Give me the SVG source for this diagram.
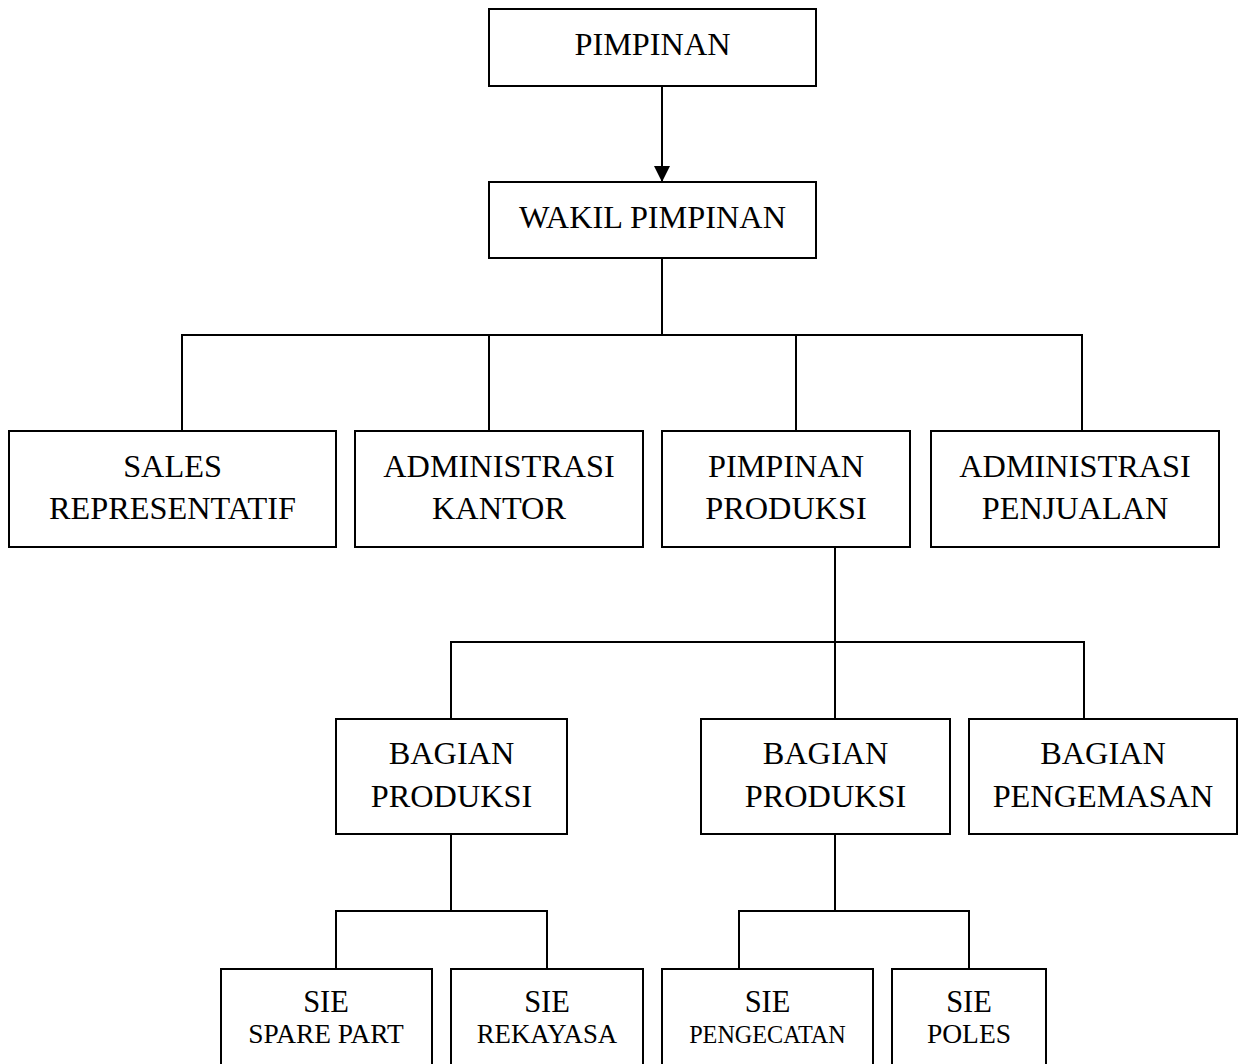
<svg xmlns="http://www.w3.org/2000/svg" width="1238" height="1064" viewBox="0 0 1238 1064">
<style>
.box{fill:#fff;stroke:#000;stroke-width:2}
.ln{fill:none;stroke:#000;stroke-width:2}
text{font-family:"Liberation Serif","Times New Roman",serif;fill:#000;text-anchor:middle}
.t{font-size:32.3px}
.s{font-size:30.5px}
</style>
<defs>
<marker id="arr" viewBox="0 0 10 10" refX="10" refY="5" markerWidth="8" markerHeight="8" markerUnits="strokeWidth" orient="auto">
<path d="M0,0 L10,5 L0,10 Z" fill="#000"/>
</marker>
</defs>
<rect width="1238" height="1064" fill="#fff"/>
<g id="connectors">
<line class="ln" x1="662" y1="86" x2="662" y2="182" marker-end="url(#arr)"/>
<path class="ln" d="M662,258 V335 M182,431 V335 H1082 V431 M489,335 V431 M796,335 V431"/>
<path class="ln" d="M835,547 V719 M451,719 V642 H1084 V719"/>
<path class="ln" d="M451,834 V911 M336,969 V911 H547 V969"/>
<path class="ln" d="M835,834 V911 M739,969 V911 H969 V969"/>
</g>
<g id="pimpinan"><rect class="box" x="489" y="9" width="327" height="77"/><text class="t" x="652.5" y="55">PIMPINAN</text></g>
<g id="wakil"><rect class="box" x="489" y="182" width="327" height="76"/><text class="t" x="652.5" y="228">WAKIL PIMPINAN</text></g>
<g id="sales"><rect class="box" x="9" y="431" width="327" height="116"/><text class="t" x="172.5" y="477">SALES</text><text class="t" x="172.5" y="519">REPRESENTATIF</text></g>
<g id="adm-kantor"><rect class="box" x="355" y="431" width="288" height="116"/><text class="t" x="499" y="477">ADMINISTRASI</text><text class="t" x="499" y="519">KANTOR</text></g>
<g id="pimpinan-produksi"><rect class="box" x="662" y="431" width="248" height="116"/><text class="t" x="786" y="477">PIMPINAN</text><text class="t" x="786" y="519">PRODUKSI</text></g>
<g id="adm-penjualan"><rect class="box" x="931" y="431" width="288" height="116"/><text class="t" x="1075" y="477">ADMINISTRASI</text><text class="t" x="1075" y="519">PENJUALAN</text></g>
<g id="bagian-produksi-1"><rect class="box" x="336" y="719" width="231" height="115"/><text class="t" x="451.5" y="764">BAGIAN</text><text class="t" x="451.5" y="807">PRODUKSI</text></g>
<g id="bagian-produksi-2"><rect class="box" x="701" y="719" width="249" height="115"/><text class="t" x="825.5" y="764">BAGIAN</text><text class="t" x="825.5" y="807">PRODUKSI</text></g>
<g id="bagian-pengemasan"><rect class="box" x="969" y="719" width="268" height="115"/><text class="t" x="1103" y="764">BAGIAN</text><text class="t" x="1103" y="807">PENGEMASAN</text></g>
<g id="sie-spare-part"><rect class="box" x="221" y="969" width="211" height="110"/><text class="s" x="326" y="1011.5">SIE</text><text x="326" y="1043" font-size="27.4">SPARE PART</text></g>
<g id="sie-rekayasa"><rect class="box" x="451" y="969" width="192" height="110"/><text class="s" x="547" y="1011.5">SIE</text><text x="547" y="1043" font-size="26.8">REKAYASA</text></g>
<g id="sie-pengecatan"><rect class="box" x="662" y="969" width="211" height="110"/><text class="s" x="767.5" y="1011.5">SIE</text><text x="767.5" y="1043" font-size="24.2">PENGECATAN</text></g>
<g id="sie-poles"><rect class="box" x="892" y="969" width="154" height="110"/><text class="s" x="969" y="1011.5">SIE</text><text x="969" y="1043" font-size="27.5">POLES</text></g>
</svg>
